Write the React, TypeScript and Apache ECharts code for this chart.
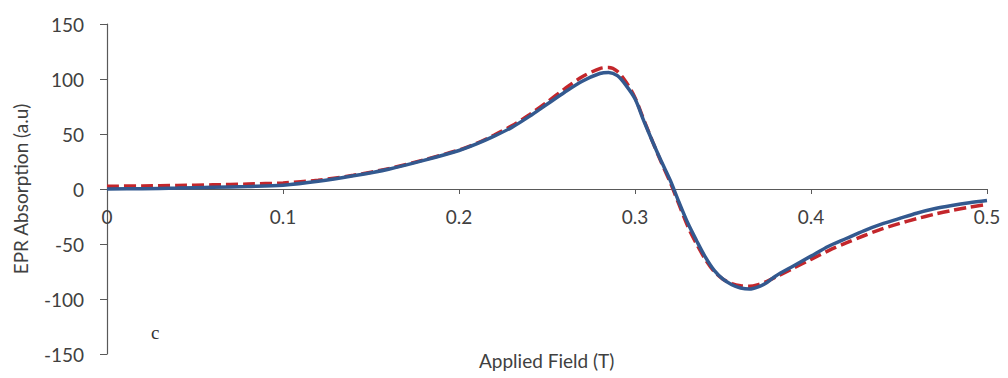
import React, { useEffect, useRef } from "react";
import * as echarts from "echarts";

const fieldBlue = [0, 0.02, 0.04, 0.06, 0.08, 0.1, 0.12, 0.14, 0.16, 0.18, 0.2, 0.21, 0.22, 0.23, 0.24, 0.25, 0.26, 0.27, 0.28, 0.285, 0.29, 0.295, 0.3, 0.305, 0.31, 0.315, 0.32, 0.325, 0.33, 0.335, 0.34, 0.345, 0.35, 0.355, 0.36, 0.365, 0.37, 0.375, 0.38, 0.39, 0.4, 0.41, 0.42, 0.43, 0.44, 0.45, 0.46, 0.47, 0.48, 0.49, 0.5];
const absorptionBlue = [0, 0.3, 0.8, 1.5, 2.3, 3.5, 7, 12, 18, 26, 35, 41, 48, 56, 66, 77, 88, 98, 105, 106, 103, 94, 82, 62, 43, 25, 8, -12, -31, -47, -62, -74, -82, -87, -90, -91, -89, -85, -79, -70, -61, -52, -45, -38, -32, -27, -22, -18, -15, -12.5, -10.5];

const fieldRed = fieldBlue;
const absorptionRed = [2.5, 2.8, 3.2, 3.8, 4.5, 5.5, 8, 12.5, 18.5, 26.5, 35.5, 41.5, 49, 57.5, 67.5, 79, 91, 102, 109.5, 110.5, 107, 97, 83, 63, 43, 24, 6, -14, -34, -50, -64, -75, -82, -86, -88, -88.5, -87, -84, -80, -72, -64, -56, -49, -42.5, -36.5, -31.5, -27, -23, -19.5, -16.5, -14];

const xTitle = "Applied Field (T)";
const yTitle = "EPR Absorption (a.u)";
const panelLabel = "c";

const FONT = "Lato, 'Noto Sans', sans-serif";
const AXIS_COLOR = "#595959";
const TEXT_COLOR = "#404040";

export default function App() {
  const ref = useRef<HTMLDivElement>(null);
  useEffect(() => {
    if (!ref.current) return;
    const chart = echarts.init(ref.current, undefined, { renderer: "svg" });
    chart.setOption({
      animation: false,
      backgroundColor: "#ffffff",
      grid: { left: 107, right: 21, top: 24, bottom: 24, containLabel: false },
      xAxis: {
        type: "value",
        min: 0,
        max: 0.5,
        interval: 0.1,
        offset: -165,
        axisLine: { onZero: false, lineStyle: { color: AXIS_COLOR, width: 1.2 } },
        axisTick: { show: true, length: 5, lineStyle: { color: AXIS_COLOR } },
        splitLine: { show: false },
        axisLabel: {
          color: TEXT_COLOR,
          fontFamily: FONT,
          fontSize: 19,
          margin: 18,
          formatter: (v: number) => (Math.round(v * 10) / 10).toString(),
        },
      },
      yAxis: {
        type: "value",
        min: -150,
        max: 150,
        interval: 50,
        name: yTitle,
        nameLocation: "middle",
        nameGap: 77,
        nameTextStyle: { color: TEXT_COLOR, fontFamily: FONT, fontSize: 19 },
        axisLine: { show: true, onZero: false, lineStyle: { color: AXIS_COLOR, width: 1.2 } },
        axisTick: { show: true, length: 7, lineStyle: { color: AXIS_COLOR } },
        splitLine: { show: false },
        axisLabel: { color: TEXT_COLOR, fontFamily: FONT, fontSize: 19, margin: 23 },
      },
      graphic: [
        {
          type: "text",
          left: 479,
          top: 351,
          style: { text: xTitle, fill: TEXT_COLOR, font: `19px ${FONT}` },
        },
        {
          type: "text",
          left: 151,
          top: 323,
          style: { text: panelLabel, fill: "#333", font: "19px 'Liberation Serif', serif" },
        },
      ],
      series: [
        {
          type: "line",
          name: "fit",
          data: fieldRed.map((x, i) => [x, absorptionRed[i]]),
          showSymbol: false,
          smooth: 0.3,
          lineStyle: { color: "#c3262b", width: 3.5, type: [12, 5] },
          z: 2,
        },
        {
          type: "line",
          name: "experiment",
          data: fieldBlue.map((x, i) => [x, absorptionBlue[i]]),
          showSymbol: false,
          smooth: 0.3,
          lineStyle: { color: "#33598f", width: 3.5 },
          z: 3,
        },
      ],
    });
    return () => chart.dispose();
  }, []);
  return <div ref={ref} style={{ width: 1008, height: 378, position: "absolute", left: 0, top: 0 }} />;
}
